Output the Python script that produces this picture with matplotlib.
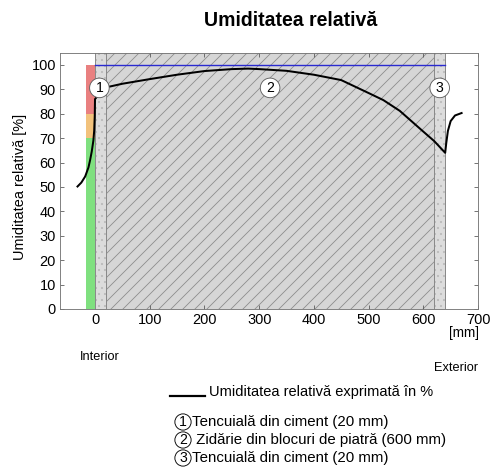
import matplotlib
matplotlib.use("Agg")
import matplotlib.pyplot as plt
from matplotlib.lines import Line2D

plt.rcParams['font.family'] = ['Liberation Sans', 'DejaVu Sans']
plt.rcParams['hatch.linewidth'] = 0.8

# ---- data ----
title = "Umiditatea relativă"
ylabel = "Umiditatea relativă [%]"
xticks = [0, 100, 200, 300, 400, 500, 600, 700]
yticks = [0, 10, 20, 30, 40, 50, 60, 70, 80, 90, 100]

# layers (mm)
layer_bounds = [0, 20, 620, 640]
layer_labels = ["1", "2", "3"]
layer_label_x = [8, 320, 630]
layer_label_y = 90.6

# comfort colour bar (RH bands)
band_lo = [0, 70, 80]
band_hi = [70, 80, 100]
band_colors = ["#7fe07f", "#f2c27c", "#e98080"]

# relative humidity curve
rh_x = [-32, -25, -18, -12, -9, -6, -3, -1.5, -0.5, 0, 10, 20, 50, 100, 150, 200, 250, 280,
        300, 350, 400, 450, 500, 527, 557, 600, 620, 640, 642, 645, 650, 658, 670]
rh_y = [50.2, 51.8, 54.3, 58.0, 61.0, 64.5, 69.0, 73.0, 79.0, 86.0, 88.8, 90.8, 92.3, 94.2,
        96.0, 97.5, 98.3, 98.5, 98.3, 97.6, 96.0, 93.8, 88.5, 85.6, 81.2, 72.7, 68.8,
        64.0, 68.0, 73.0, 77.0, 79.3, 80.3]

saturation_x = [0, 640]
saturation_y = [100, 100]

legend_line = "Umiditatea relativă exprimată în %"
legend_items = ["Tencuială din ciment (20 mm)",
                " Zidărie din blocuri de piatră (600 mm)",
                "Tencuială din ciment (20 mm)"]

# ---- figure ----
W, H = 491, 474
DPI = 72
fig = plt.figure(figsize=(W / DPI, H / DPI), dpi=DPI)
ax = fig.add_axes([60 / W, 1 - 309 / H, (478 - 60) / W, (309 - 53) / H])
ax.set_xlim(-64, 700)
ax.set_ylim(0, 104.9)

# layers
ax.axvspan(layer_bounds[0], layer_bounds[1], facecolor="#dcdcdc", edgecolor="#b8b8b8",
           hatch="..", linewidth=0, zorder=1)
ax.axvspan(layer_bounds[1], layer_bounds[2], facecolor="#d6d6d6", edgecolor="#8c8c8c",
           hatch="//", linewidth=0, zorder=1)
ax.axvspan(layer_bounds[2], layer_bounds[3], facecolor="#dcdcdc", edgecolor="#b8b8b8",
           hatch="..", linewidth=0, zorder=1)
for b in layer_bounds:
    ax.axvline(b, color="#8a8a8a", lw=1.0, zorder=2)

# colour bands
for lo, hi, c in zip(band_lo, band_hi, band_colors):
    ax.fill_between([-16.5, 0], [lo, lo], [hi, hi], color=c, linewidth=0, zorder=2)

ax.plot(saturation_x, saturation_y, color="#2a2ad0", lw=1.4, zorder=3)
ax.plot(rh_x, rh_y, color="black", lw=2.0, zorder=4, solid_joinstyle="round")

for lx, lt in zip(layer_label_x, layer_labels):
    ax.text(lx, layer_label_y, lt, ha="center", va="center", fontsize=14, zorder=6,
            bbox=dict(boxstyle="circle,pad=0.2", fc="white", ec="#606060", lw=0.9))

ax.set_xticks(xticks)
ax.set_yticks(yticks)
ax.tick_params(direction="in", top=True, right=True, labelsize=14.5, length=4,
               color="#555555", pad=4)
for s in ax.spines.values():
    s.set_color("#777777")
    s.set_linewidth(0.9)
ax.set_ylabel(ylabel, fontsize=14.5, va="center")
ax.yaxis.set_label_coords(-0.096, 0.475)

fig.text(291 / W, 1 - 20 / H, title, ha="center", va="center", fontsize=19.5,
         fontweight="bold")
fig.text(479 / W, 1 - 333 / H, "[mm]", ha="right", va="center", fontsize=13.5)
fig.text(100 / W, 1 - 357 / H, "Interior", ha="center", va="center", fontsize=12.8)
fig.text(478 / W, 1 - 368 / H, "Exterior", ha="right", va="center", fontsize=12.8)

fig.add_artist(Line2D([170 / W, 205 / W], [1 - 396 / H, 1 - 396 / H],
                      color="black", lw=2.2))
fig.text(209 / W, 1 - 392 / H, legend_line, ha="left", va="center", fontsize=14.6)

ys = [422, 440, 458]
for i, (it, yy) in enumerate(zip(legend_items, ys)):
    fig.text(183 / W, 1 - yy / H, str(i + 1), ha="center", va="center", fontsize=14,
             bbox=dict(boxstyle="circle,pad=0.08", fc="white", ec="black", lw=0.9))
    fig.text(192 / W, 1 - yy / H, it, ha="left", va="center", fontsize=15)

fig.savefig("out.png", dpi=DPI)
